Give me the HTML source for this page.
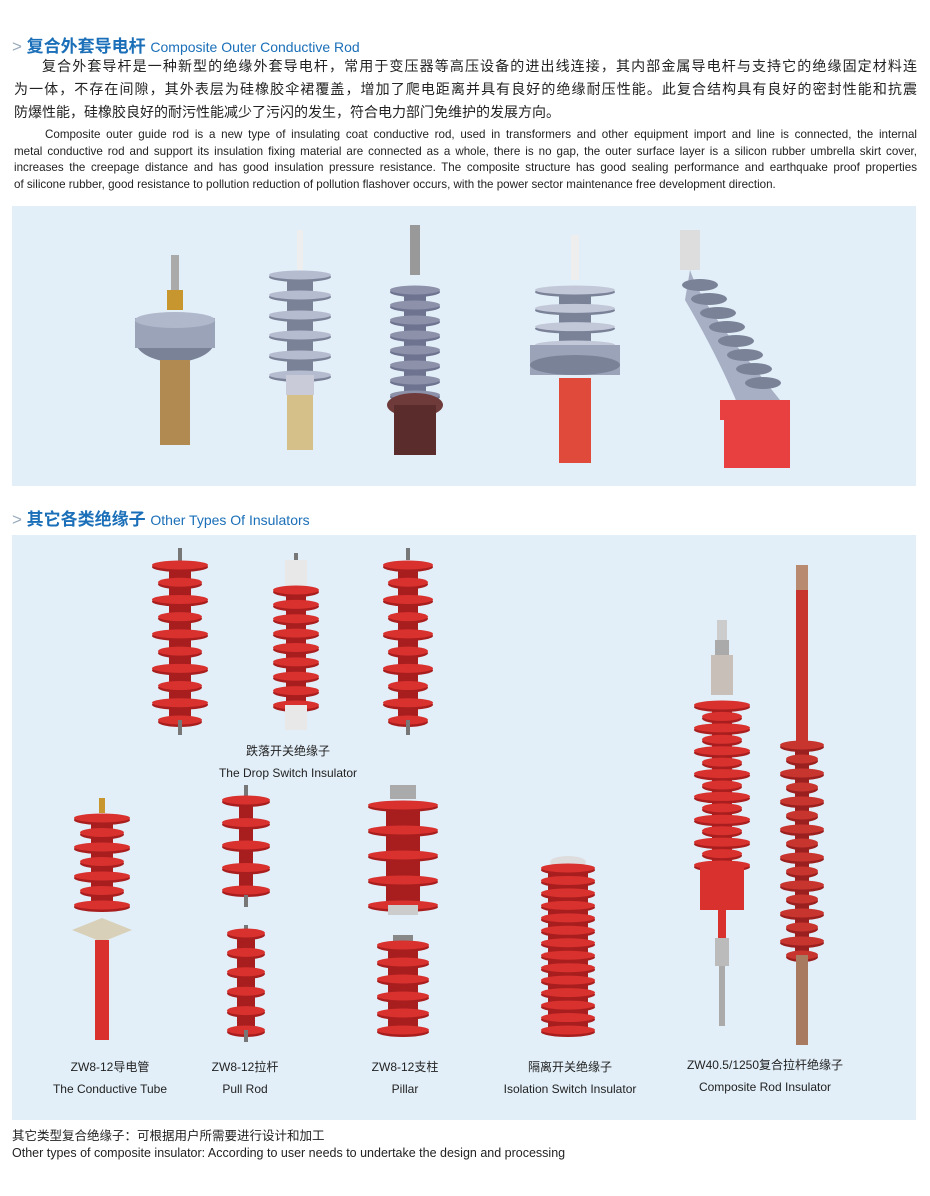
<!DOCTYPE html>
<html><head><meta charset="utf-8">
<style>
body{margin:0;width:930px;height:1196px;background:#fff;position:relative;overflow:hidden;font-family:"Liberation Sans","Noto Sans CJK SC",sans-serif;}
.a{position:absolute;white-space:nowrap;}
.h{color:#1a6fb8;font-size:17px;font-weight:bold;}
.h span{font-weight:normal;font-size:14px;}
.h i{font-style:normal;color:#9ab;font-weight:normal;}
.j{position:absolute;left:14px;width:903px;text-align:justify;text-align-last:justify;white-space:nowrap;}
.cn{font-size:14px;color:#222;height:23px;}
.en{font-size:11.6px;color:#222;height:17px;}
.lb{font-size:12px;color:#222;text-align:center;line-height:22px;}
svg{position:absolute;left:0;top:0}
</style></head><body>
<div class="a h" style="left:12px;top:32px"><i>&gt;</i> 复合外套导电杆 <span>Composite Outer Conductive Rod</span></div>
<div class="j cn" style="top:56px;left:42px;width:875px">复合外套导杆是一种新型的绝缘外套导电杆，常用于变压器等高压设备的进出线连接，其内部金属导电杆与支持它的绝缘固定材料连</div>
<div class="j cn" style="top:79px">为一体，不存在间隙，其外表层为硅橡胶伞裙覆盖，增加了爬电距离并具有良好的绝缘耐压性能。此复合结构具有良好的密封性能和抗震</div>
<div class="j cn" style="top:102px;text-align-last:left">防爆性能，硅橡胶良好的耐污性能减少了污闪的发生，符合电力部门免维护的发展方向。</div>
<div class="j en" style="top:128px;left:45px;width:872px">Composite outer guide rod is a new type of insulating coat conductive rod, used in transformers and other equipment import and line is connected, the internal</div>
<div class="j en" style="top:145px">metal conductive rod and support its insulation fixing material are connected as a whole, there is no gap, the outer surface layer is a silicon rubber umbrella skirt cover,</div>
<div class="j en" style="top:161px">increases the creepage distance and has good insulation pressure resistance. The composite structure has good sealing performance and earthquake proof properties</div>
<div class="j en" style="top:178px;text-align-last:left">of silicone rubber, good resistance to pollution reduction of pollution flashover occurs, with the power sector maintenance free development direction.</div>
<div class="a" style="left:12px;top:206px;width:904px;height:280px;background:#e2eff8"></div>
<div class="a h" style="left:12px;top:505px"><i>&gt;</i> 其它各类绝缘子 <span>Other Types Of Insulators</span></div>
<div class="a" style="left:12px;top:535px;width:904px;height:585px;background:#e2eff8"></div>
<div class="a lb" style="left:188px;top:740px;width:200px">跌落开关绝缘子<br>The Drop Switch Insulator</div>
<div class="a lb" style="left:40px;top:1056px;width:140px">ZW8-12导电管<br>The Conductive Tube</div>
<div class="a lb" style="left:190px;top:1056px;width:110px">ZW8-12拉杆<br>Pull Rod</div>
<div class="a lb" style="left:350px;top:1056px;width:110px">ZW8-12支柱<br>Pillar</div>
<div class="a lb" style="left:480px;top:1056px;width:180px">隔离开关绝缘子<br>Isolation Switch Insulator</div>
<div class="a lb" style="left:660px;top:1054px;width:210px">ZW40.5/1250复合拉杆绝缘子<br>Composite Rod Insulator</div>
<div class="a" style="left:12px;top:1128px;font-size:12.5px;color:#222;line-height:17px">其它类型复合绝缘子：可根据用户所需要进行设计和加工<br>Other types of composite insulator: According to user needs to undertake the design and processing</div>
<svg id="s" width="930" height="1196"></svg>
<script>
var s=document.getElementById('s'),h='';
function r(x,y,w,hh,c){h+='<rect x="'+(x-w/2)+'" y="'+y+'" width="'+w+'" height="'+hh+'" fill="'+c+'"/>';}
function e(x,y,rx,ry,c){h+='<ellipse cx="'+x+'" cy="'+y+'" rx="'+rx+'" ry="'+ry+'" fill="'+c+'"/>';}
function sheds(x,y1,y2,n,w1,w2,core,c,d){r(x,y1,core,y2-y1,d);for(var i=0;i<n;i++){var y=y1+(y2-y1)*i/(n-1);var w=(i%2&&w2)?w2:w1;e(x,y+2,w/2,5,d);e(x,y,w/2,4.5,c);}}
var R='#d8312e',D='#a81e1e',G='#9aa3b8',GD='#7a8298';
// panel1
r(175,255,8,40,'#aaa');r(175,290,16,20,'#c8962e');e(175,340,40,22,GD);r(175,318,80,30,G);e(175,320,40,8,'#b0b8cc');r(175,360,30,85,'#b08a50');
r(300,230,6,40,'#eee');sheds(300,275,375,6,62,0,26,'#b5bccf',GD);r(300,375,28,20,'#c9ccd8');r(300,395,26,55,'#d6c08a');
r(415,225,10,50,'#999');sheds(415,290,395,8,50,0,22,'#8d92aa','#6e7390');e(415,405,28,12,'#6e3a3a');r(415,405,42,50,'#5a2c2c');
r(575,235,8,45,'#eee');sheds(575,290,345,4,80,0,32,'#c2c8d8',GD);r(575,345,90,30,G);e(575,365,45,10,GD);r(575,378,32,85,'#e04a3a');
r(690,230,20,40,'#ddd');h+='<path d="M690 270 Q700 300 740 350 L780 400 L740 410 Q720 360 685 300 Z" fill="#a7afc4"/>';for(var i=0;i<8;i++){e(700+i*9,285+i*14,18,6,GD);}r(755,400,70,20,'#e84040');r(757,420,66,48,'#e84040');
// panel2
r(180,548,4,14,'#777');sheds(180,565,720,10,56,44,22,R,D);r(180,720,4,15,'#777');
r(296,553,4,8,'#777');r(296,560,22,30,'#e8e8e8');sheds(296,590,705,9,46,0,20,R,D);r(296,705,22,25,'#e8e8e8');
r(408,548,4,12,'#777');sheds(408,565,720,10,50,40,20,R,D);r(408,720,4,15,'#777');
r(102,798,6,15,'#c8962e');sheds(102,818,905,7,56,44,22,R,D);h+='<polygon points="72,930 102,918 132,930 102,942" fill="#d8d0b8"/>';r(102,940,14,100,R);
r(246,785,4,12,'#777');sheds(246,800,890,5,48,0,14,R,D);r(246,895,4,12,'#777');r(246,925,4,8,'#777');sheds(246,933,1030,6,38,0,18,R,D);r(246,1030,4,12,'#777');
r(403,785,26,14,'#aaa');sheds(403,805,905,5,70,0,34,R,D);r(403,905,30,10,'#ccc');r(403,935,20,10,'#888');sheds(403,945,1030,6,52,0,30,R,D);
e(568,862,18,6,'#ddd');sheds(568,868,1030,14,54,0,40,R,D);
r(722,620,10,20,'#ccc');r(722,640,14,15,'#aaa');r(722,655,22,40,'#c8c0b8');sheds(722,705,865,15,56,40,20,R,D);r(722,868,44,42,R);r(722,910,8,28,R);r(722,938,14,28,'#bbb');r(722,966,6,60,'#aaa');
r(802,565,12,25,'#b88a70');r(802,590,12,155,'#c8342e');sheds(802,745,955,16,44,32,14,'#c8342e','#9a2020');r(802,955,12,90,'#a87a60');
s.innerHTML=h;
</script>
</body></html>
